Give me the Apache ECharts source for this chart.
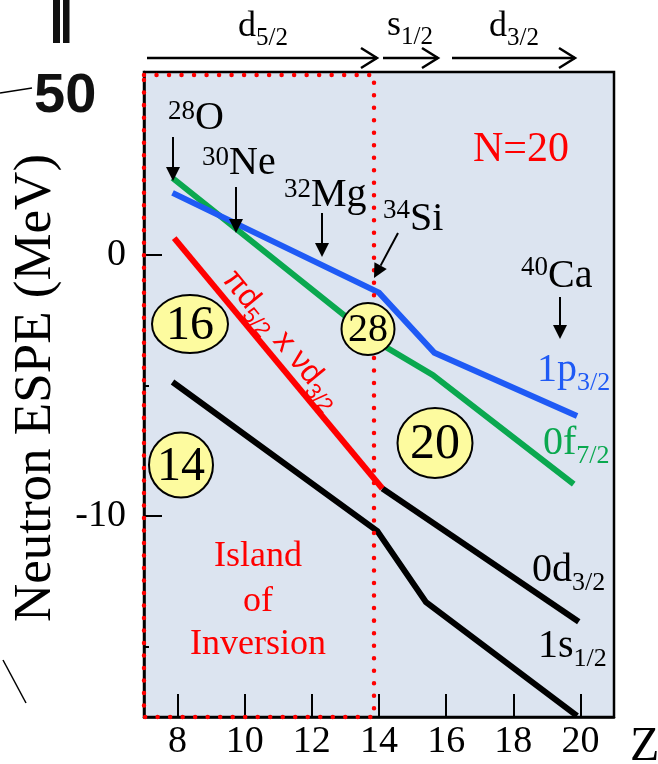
<!DOCTYPE html>
<html>
<head>
<meta charset="utf-8">
<script src="https://cdn.jsdelivr.net/npm/echarts@6/dist/echarts.min.js"></script>
<style>
  html, body { margin: 0; padding: 0; background: #fff; }
  #chart { width: 658px; height: 764px; }
</style>
</head>
<body>
<div id="chart"></div>
<script>
// Neutron effective single-particle energies (MeV) versus proton number Z, N = 20 isotones
const zTicks = [8, 10, 12, 14, 16, 18, 20];
const eMajorTicks = [0, -10];
const eMinorTicks = [-5, -15];

const zP32 = [7.85, 14.0, 15.65, 19.9];
const eP32 = [2.37, -1.45, -3.75, -6.17];

const zF72 = [7.85, 14.0, 15.6, 19.8];
const eF72 = [2.94, -3.38, -4.6, -8.78];

const zTensor = [7.9, 14.1];
const eTensor = [0.64, -8.95];

const zD32 = [14.1, 19.95];
const eD32 = [-8.95, -14.05];

const zS12 = [7.85, 13.95, 15.4, 19.9];
const eS12 = [-4.87, -10.58, -13.3, -17.66];

const SERIF = '"Liberation Serif", "Times New Roman", serif';
const SANS = '"Liberation Sans", Arial, sans-serif';
const BLUE = '#1f5af5';
const GREEN = '#0aa84f';
const RED = '#ff0000';

const pairs = (xs, ys) => xs.map((x, i) => [x, ys[i]]);

const measureCtx = document.createElement('canvas').getContext('2d');
function textWidth(t, size, family, weight) {
  measureCtx.font = (weight || 'normal') + ' ' + size + 'px ' + family;
  return measureCtx.measureText(t).width;
}

// one text element placed by its alphabetic baseline
function T(text, x, baseline, size, color, family, align, extra) {
  const fam = family || SERIF;
  return {
    type: 'text',
    x: x,
    y: baseline - 0.3 * size,
    z: 40,
    silent: true,
    style: Object.assign({
      text: text,
      fill: color || '#000',
      font: size + 'px ' + fam,
      fontSize: size,
      fontFamily: fam,
      textAlign: align || 'left',
      align: align || 'left',
      textVerticalAlign: 'middle',
      verticalAlign: 'middle'
    }, extra || {})
  };
}

// runs of text with sub/superscripts; each part: [text, size, rise]
function scripted(parts, x, baseline, color, family) {
  const fam = family || SERIF;
  const out = [];
  let cx = x;
  parts.forEach(p => {
    out.push(T(p[0], cx, baseline - (p[2] || 0), p[1], color, fam));
    cx += textWidth(p[0], p[1], fam);
  });
  return out;
}

function downArrow(x1, y1, x2, y2) {
  const dx = x2 - x1, dy = y2 - y1;
  const len = Math.sqrt(dx * dx + dy * dy);
  const ux = dx / len, uy = dy / len;
  const head = 14, half = 7;
  const bx = x2 - ux * head, by = y2 - uy * head;
  return [
    { type: 'line', z: 40, silent: true,
      shape: { x1: x1, y1: y1, x2: bx, y2: by },
      style: { stroke: '#000', lineWidth: 2 } },
    { type: 'polygon', z: 40, silent: true,
      shape: { points: [[x2, y2], [bx - uy * half, by + ux * half], [bx + uy * half, by - ux * half]] },
      style: { fill: '#000' } }
  ];
}

function openArrow(x1, x2, y) {
  return [
    { type: 'line', z: 40, silent: true,
      shape: { x1: x1, y1: y, x2: x2, y2: y },
      style: { stroke: '#000', lineWidth: 2.5 } },
    { type: 'polyline', z: 40, silent: true,
      shape: { points: [[x2 - 16, y - 10], [x2, y], [x2 - 16, y + 10]] },
      style: { stroke: '#000', lineWidth: 2.5, fill: null } }
  ];
}

function magicBubble(label, cx, cy, rx, ry, size) {
  const t = T(label, cx, cy + 0.34 * size, size, '#000', SERIF, 'center');
  t.z = 36;
  return [
    { type: 'ellipse', z: 35, silent: true,
      shape: { cx: cx, cy: cy, rx: rx, ry: ry },
      style: { fill: '#fdfb9f', stroke: '#000', lineWidth: 2 } },
    t
  ];
}

const chart = echarts.init(document.getElementById('chart'), null, { renderer: 'canvas' });

function lineSeries(name, data, color) {
  return {
    name: name, type: 'line', data: data, symbol: 'none', silent: true,
    z: 3, clip: false,
    lineStyle: { color: color, width: 6, cap: 'butt', join: 'miter' }
  };
}

chart.setOption({
  animation: false,
  backgroundColor: '#fff',
  grid: {
    left: 144, top: 72, right: 44, bottom: 47,
    outerBoundsMode: 'none', containLabel: false,
    show: true, backgroundColor: '#dce4f0', borderColor: '#000', borderWidth: 2.5
  },
  xAxis: {
    type: 'value', min: 7, max: 21,
    axisLine: { show: true, onZero: false, lineStyle: { color: '#000', width: 2.5 } },
    axisTick: { show: true, inside: true, length: 23, customValues: zTicks, lineStyle: { color: '#000', width: 2 } },
    axisLabel: { customValues: zTicks, color: '#000', fontSize: 38, fontFamily: SERIF, margin: 6 },
    splitLine: { show: false }
  },
  yAxis: [
    {
      type: 'value', min: -17.7, max: 7,
      axisLine: { show: true, onZero: false, lineStyle: { color: '#000', width: 2.5 } },
      axisTick: { show: true, inside: true, length: 18, customValues: eMajorTicks, lineStyle: { color: '#000', width: 2 } },
      axisLabel: { customValues: eMajorTicks, color: '#000', fontSize: 38, fontFamily: SERIF, margin: 18 },
      splitLine: { show: false }
    },
    {
      type: 'value', min: -17.7, max: 7, position: 'left', offset: 0,
      axisLine: { show: false, onZero: false },
      axisTick: { show: true, inside: true, length: 5, customValues: eMinorTicks, lineStyle: { color: '#000', width: 2 } },
      axisLabel: { show: false },
      splitLine: { show: false }
    }
  ],
  series: [
    lineSeries('1s1/2', pairs(zS12, eS12), '#000'),
    lineSeries('0d3/2', pairs(zD32, eD32), '#000'),
    lineSeries('tensor', pairs(zTensor, eTensor), RED),
    lineSeries('0f7/2', pairs(zF72, eF72), GREEN),
    lineSeries('1p3/2', pairs(zP32, eP32), BLUE)
  ]
});

// annotation layer
const g = [];

// axis title, rotated
g.push({
  type: 'text', x: 36, y: 388, rotation: Math.PI / 2, z: 40, silent: true,
  style: {
    text: 'Neutron ESPE (MeV)', fill: '#000', font: '53px ' + SERIF, fontSize: 53, fontFamily: SERIF,
    textAlign: 'center', align: 'center', textVerticalAlign: 'middle', verticalAlign: 'middle'
  }
});

// island-of-inversion frame
g.push({
  type: 'rect', z: 30, silent: true,
  shape: { x: 144, y: 75, width: 230, height: 642 },
  style: { fill: null, stroke: RED, lineWidth: 4.5, lineDash: [0.01, 12.5], lineCap: 'round' }
});

// orbital filling arrows along the top
g.push(...openArrow(147, 377, 58), ...openArrow(383, 438, 58), ...openArrow(452, 575, 58));
g.push(...scripted([['d', 36, 0], ['5/2', 25, -9]], 238, 37));
g.push(...scripted([['s', 36, 0], ['1/2', 25, -9]], 387, 36));
g.push(...scripted([['d', 36, 0], ['3/2', 25, -9]], 489, 37));

// nuclei
g.push(...scripted([['28', 27, 10], ['O', 40, 0]], 168, 130));
g.push(...scripted([['30', 27, 9], ['Ne', 40, 0]], 202, 175));
g.push(...scripted([['32', 27, 9], ['Mg', 40, 0]], 284, 207));
g.push(...scripted([['34', 27, 12], ['Si', 40, 0]], 383, 231));
g.push(...scripted([['40', 27, 12], ['Ca', 40, 0]], 521, 288));

g.push(...downArrow(173, 137, 173, 181));
g.push(...downArrow(236, 187, 236, 233));
g.push(...downArrow(322, 213, 322, 257));
g.push(...downArrow(398, 233, 374, 278));
g.push(...downArrow(560, 297, 560, 339));

// orbital labels
g.push(...scripted([['1p', 40, 0], ['3/2', 26, -9]], 537, 382, BLUE));
g.push(...scripted([['0f', 40, 0], ['7/2', 26, -9]], 543, 455, GREEN));
g.push(...scripted([['0d', 40, 0], ['3/2', 26, -9]], 532, 582, '#000'));
g.push(...scripted([['1s', 40, 0], ['1/2', 26, -9]], 538, 658, '#000'));

// tensor-force label along the red line
const ang = Math.atan2(489 - 238, 382 - 175);
g.push({
  type: 'group', x: 214, y: 286, rotation: -ang, z: 40,
  children: scripted([['\u03c0d', 32, 0], ['5/2', 22, -7], [' x \u03bdd', 32, 0], ['3/2', 22, -7]], 0, -9, RED, SANS)
});

// magic numbers
g.push(...magicBubble('16', 190, 324, 38, 29, 48));
g.push(...magicBubble('14', 181, 465, 32, 32.5, 48));
g.push(...magicBubble('28', 368, 329, 26.5, 26, 40));
g.push(...magicBubble('20', 435, 443, 37.5, 35, 50));

// region captions
g.push(T('N=20', 473, 163, 42, RED));
g.push(T('Island', 258, 567, 36, RED, SERIF, 'center'));
g.push(T('of', 258, 612, 36, RED, SERIF, 'center'));
g.push(T('Inversion', 258, 655, 36, RED, SERIF, 'center'));

// axis symbol
g.push(T('Z', 630, 762, 48, '#000'));

// neighbouring panel edge
g.push({ type: 'rect', z: 40, silent: true, shape: { x: 53, y: 0, width: 7, height: 43 }, style: { fill: '#111' } });
g.push({ type: 'rect', z: 40, silent: true, shape: { x: 63, y: 0, width: 6.5, height: 43 }, style: { fill: '#111' } });
g.push(T('50', 34, 113, 56, '#111', SANS, 'left', { fontWeight: 'bold', font: 'bold 56px ' + SANS }));
g.push({ type: 'line', z: 40, silent: true, shape: { x1: 0, y1: 93, x2: 32, y2: 88 }, style: { stroke: '#000', lineWidth: 1.5 } });
g.push({ type: 'line', z: 40, silent: true, shape: { x1: 3, y1: 660, x2: 26, y2: 703 }, style: { stroke: '#000', lineWidth: 1.5 } });

chart.setOption({ graphic: { elements: g } });
</script>
</body>
</html>
